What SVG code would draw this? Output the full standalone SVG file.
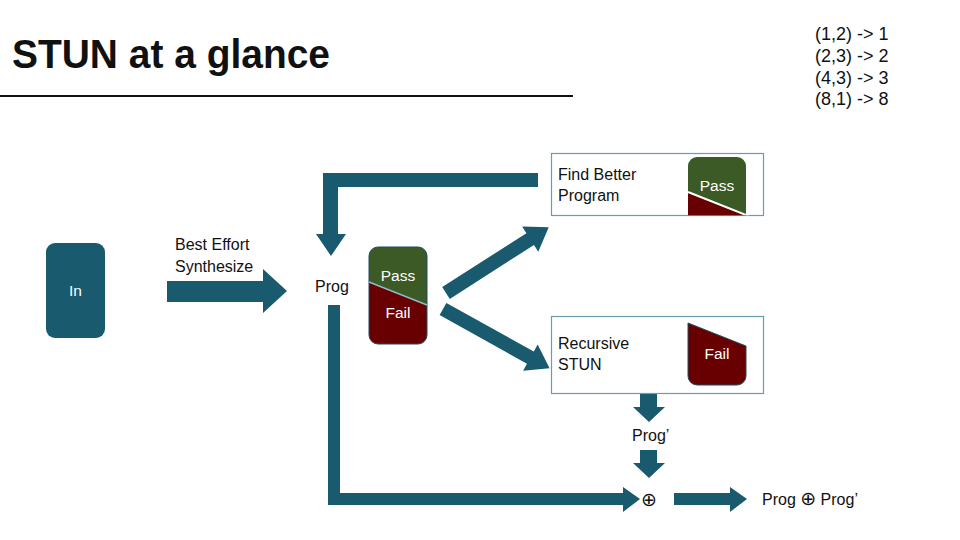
<svg xmlns="http://www.w3.org/2000/svg" xmlns:xlink="http://www.w3.org/1999/xlink" width="960" height="540" viewBox="0 0 960 540">
<style>
.t{font-family:"Liberation Sans",Arial,sans-serif;font-size:16px;fill:#111}
.w{font-family:"Liberation Sans",Arial,sans-serif;font-size:15.5px;fill:#fff;text-anchor:middle}
.op{font-family:"DejaVu Sans",sans-serif;font-size:19px}
.arr{fill:#1a5a6e}
.box{fill:#fff;stroke:#6a9bb0;stroke-width:1.2}
.green{fill:#3b5a25}
.red{fill:#680002}
</style>
<defs>
<path id="gTop" d="M369,282 L369,256 A9,9 0 0 1 378,247 L418,247 A9,9 0 0 1 427,256 L427,305 Z"/>
<path id="rBot" d="M369,282 L427,305 L427,335 A9,9 0 0 1 418,344 L378,344 A9,9 0 0 1 369,335 Z"/>
<path id="diag" d="M0,-7 L100,-7 L100,-15 L122,0 L100,15 L100,7 L0,7 Z"/>
<clipPath id="cBox"><rect x="552" y="154" width="211" height="61.3"/></clipPath>
</defs>
<rect width="960" height="540" fill="#fff"/>
<text x="12" y="68" font-family="Liberation Sans,Arial,sans-serif" font-size="41" font-weight="bold" fill="#111" textLength="318" lengthAdjust="spacingAndGlyphs">STUN at a glance</text>
<line x1="0" y1="96" x2="573" y2="96" stroke="#111" stroke-width="2"/>
<g id="examples" font-family="Liberation Sans,Arial,sans-serif" font-size="18" fill="#111">
<text x="815" y="40">(1,2) -&gt; 1</text>
<text x="815" y="62">(2,3) -&gt; 2</text>
<text x="815" y="84">(4,3) -&gt; 3</text>
<text x="815" y="105">(8,1) -&gt; 8</text>
</g>
<g id="connectors">
<polygon class="arr" points="167,281 263,281 263,269 287,291 263,313 263,302 167,302"/>
<polygon class="arr" points="538,173 323,173 323,234 316,234 331,256 346,234 338,234 338,187 538,187"/>
<use href="#diag" class="arr" transform="translate(446,293) rotate(-32.65)"/>
<use href="#diag" class="arr" transform="translate(443,309) rotate(29.1)"/>
<polygon class="arr" points="328,305 340,305 340,493 623,493 623,487 640,499 623,512 623,505 328,505"/>
<polygon class="arr" points="640,393 657,393 657,407 665,407 649,422 633,407 640,407"/>
<polygon class="arr" points="640,450 657,450 657,463 665,463 649,478 633,463 640,463"/>
<polygon class="arr" points="674,493 730,493 730,487 747,499 730,512 730,505 674,505"/>
<text class="t" x="175" y="249.5">Best Effort</text>
<text class="t" x="175" y="271.5">Synthesize</text>
</g>
<g id="in">
<rect x="46" y="243" width="59" height="95" rx="9" fill="#1a5a6e"/>
<text class="w" x="75.5" y="296" font-size="16">In</text>
</g>
<g id="prog"><text class="t" x="315" y="292">Prog</text></g>
<g id="passfail">
<use href="#gTop" class="green"/>
<use href="#rBot" class="red"/>
<rect x="369" y="247" width="58" height="97" rx="9" fill="none" stroke="#1d4e60" stroke-width="1"/>
<line x1="369" y1="282" x2="427" y2="305" stroke="#8fb8cc" stroke-width="1.5"/>
<text class="w" x="398" y="281">Pass</text>
<text class="w" x="398" y="318">Fail</text>
</g>
<g id="findbetter">
<rect class="box" x="551.5" y="153.5" width="212" height="62"/>
<g clip-path="url(#cBox)">
<g transform="translate(319,-90)">
<use href="#gTop" class="green"/>
<use href="#rBot" class="red"/>
<line x1="369" y1="282" x2="430" y2="306.2" stroke="#fff" stroke-width="2"/>
<text class="w" x="398" y="281">Pass</text>
</g>
</g>
<text class="t" x="558" y="180">Find Better</text>
<text class="t" x="558" y="201">Program</text>
</g>
<g id="recursive">
<rect class="box" x="551.5" y="316.5" width="212" height="77"/>
<g transform="translate(319,41)">
<use href="#rBot" class="red" stroke="#1d4e60" stroke-width="1"/>
<text class="w" x="398" y="318">Fail</text>
</g>
<text class="t" x="558" y="348.5">Recursive</text>
<text class="t" x="558" y="370">STUN</text>
</g>
<g id="progprime"><text class="t" x="632" y="441">Prog’</text></g>
<g id="oplus"><text class="t op" x="649" y="505.5" text-anchor="middle">⊕</text></g>
<g id="result"><text class="t" x="762" y="505">Prog <tspan class="op">⊕</tspan> Prog’</text></g>
</svg>
